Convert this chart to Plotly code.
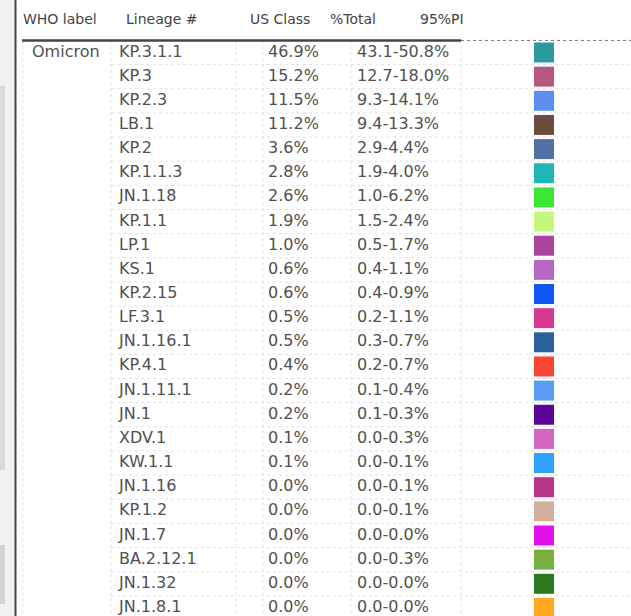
import plotly.graph_objects as go

# ---- data ----
who_label = ["Omicron"]
lineages = ["KP.3.1.1", "KP.3", "KP.2.3", "LB.1", "KP.2", "KP.1.1.3", "JN.1.18", "KP.1.1",
            "LP.1", "KS.1", "KP.2.15", "LF.3.1", "JN.1.16.1", "KP.4.1", "JN.1.11.1", "JN.1",
            "XDV.1", "KW.1.1", "JN.1.16", "KP.1.2", "JN.1.7", "BA.2.12.1", "JN.1.32", "JN.1.8.1"]
share = [46.9, 15.2, 11.5, 11.2, 3.6, 2.8, 2.6, 1.9, 1.0, 0.6, 0.6, 0.5, 0.5, 0.4, 0.2, 0.2,
         0.1, 0.1, 0.0, 0.0, 0.0, 0.0, 0.0, 0.0]
pi_low = [43.1, 12.7, 9.3, 9.4, 2.9, 1.9, 1.0, 1.5, 0.5, 0.4, 0.4, 0.2, 0.3, 0.2, 0.1, 0.1,
          0.0, 0.0, 0.0, 0.0, 0.0, 0.0, 0.0, 0.0]
pi_high = [50.8, 18.0, 14.1, 13.3, 4.4, 4.0, 6.2, 2.4, 1.7, 1.1, 0.9, 1.1, 0.7, 0.7, 0.4, 0.3,
           0.3, 0.1, 0.1, 0.1, 0.0, 0.3, 0.0, 0.0]
swatch_colors = ["#2b9aa0", "#b5587f", "#5b8ef0", "#6e4b3f", "#5272a6", "#22b5b8", "#3de634",
                 "#c8f77e", "#a8459c", "#b866c4", "#1155f5", "#d63a8f", "#2d5f9a", "#fa4530",
                 "#5b9cf2", "#5a0598", "#d564c2", "#30a0ff", "#b83585", "#d4b0a0", "#e010f0",
                 "#78b040", "#2a7a20", "#ffa820"]
headers = ["WHO label", "Lineage #", "US Class", "%Total", "95%PI"]

# ---- layout constants (pixels) ----
W, H = 631, 616
ROW0 = 52.5      # pixel centre of first row
PITCH = 24.15    # row height
HEADER_Y = (20 - ROW0) / PITCH
header_x = [23, 126, 250, 330, 420]
col_who, col_lin, col_share, col_pi, col_sw = 32, 119, 268, 357, 544
vlines = [23, 111, 236, 263, 351, 461]

n = len(lineages)
rows = list(range(n))
TXT = "#505050"
body_font = dict(family="DejaVu Sans", size=16, color=TXT)
head_font = dict(family="DejaVu Sans", size=14, color="#444444")

fig = go.Figure()
# header
fig.add_trace(go.Scatter(x=header_x, y=[HEADER_Y] * len(headers), text=headers, mode="text",
                         textposition="middle right", textfont=head_font, hoverinfo="skip"))
# WHO label
fig.add_trace(go.Scatter(x=[col_who], y=[0], text=who_label, mode="text",
                         textposition="middle right", textfont=body_font, hoverinfo="skip"))
# lineage
fig.add_trace(go.Scatter(x=[col_lin] * n, y=rows, text=lineages, mode="text",
                         textposition="middle right", textfont=body_font, hoverinfo="skip"))
# share
fig.add_trace(go.Scatter(x=[col_share] * n, y=rows, text=[f"{v:.1f}%" for v in share], mode="text",
                         textposition="middle right", textfont=body_font, hoverinfo="skip"))
# PI
fig.add_trace(go.Scatter(x=[col_pi] * n, y=rows,
                         text=[f"{a:.1f}-{b:.1f}%" for a, b in zip(pi_low, pi_high)], mode="text",
                         textposition="middle right", textfont=body_font, hoverinfo="skip"))
# swatches
fig.add_trace(go.Scatter(x=[col_sw] * n, y=rows, mode="markers",
                         marker=dict(symbol="square", size=20, color=swatch_colors, line=dict(width=0)),
                         hoverinfo="skip"))

shapes = []
y_top = -0.5
y_bot = (H - ROW0) / PITCH + 1
# left UI strip
shapes.append(dict(type="rect", xref="paper", yref="paper", x0=0, x1=15 / W, y0=0, y1=1,
                   fillcolor="#f2f2f2", line=dict(width=0), layer="below"))
shapes.append(dict(type="rect", xref="paper", yref="paper", x0=0, x1=5 / W, y0=1 - 470 / H, y1=1 - 86 / H,
                   fillcolor="#d9d9d9", line=dict(width=0), layer="below"))
shapes.append(dict(type="rect", xref="paper", yref="paper", x0=0, x1=5 / W, y0=1 - 604 / H, y1=1 - 545 / H,
                   fillcolor="#d4d4d4", line=dict(width=0), layer="below"))
shapes.append(dict(type="line", xref="paper", yref="paper", x0=15.5 / W, x1=15.5 / W, y0=0, y1=1,
                   line=dict(color="#444444", width=2)))
# grid verticals
for xv in vlines:
    shapes.append(dict(type="line", xref="x", yref="y", x0=xv, x1=xv, y0=y_top, y1=y_bot,
                       line=dict(color="#dcdcdc", width=1, dash="dot"), layer="below"))
# grid horizontals
for i in range(n):
    shapes.append(dict(type="line", xref="x", yref="y", x0=vlines[1], x1=W, y0=i + 0.5, y1=i + 0.5,
                       line=dict(color="#e2e2e2", width=1, dash="dot"), layer="below"))
# header rule
shapes.append(dict(type="line", xref="x", yref="y", x0=22, x1=461, y0=y_top, y1=y_top,
                   line=dict(color="#444444", width=2.5)))
shapes.append(dict(type="line", xref="x", yref="y", x0=461, x1=W, y0=y_top, y1=y_top,
                   line=dict(color="#777777", width=1, dash="dot")))

fig.update_layout(
    width=W, height=H, margin=dict(l=0, r=0, t=0, b=0),
    paper_bgcolor="white", plot_bgcolor="white", showlegend=False,
    xaxis=dict(range=[0, W], visible=False, fixedrange=True),
    yaxis=dict(range=[(H - ROW0) / PITCH, -ROW0 / PITCH], visible=False, fixedrange=True),
    shapes=shapes,
)
fig.write_html("out.html", config={"displayModeBar": False},
               post_script="document.body.style.margin='0';document.body.style.overflow='hidden';")
